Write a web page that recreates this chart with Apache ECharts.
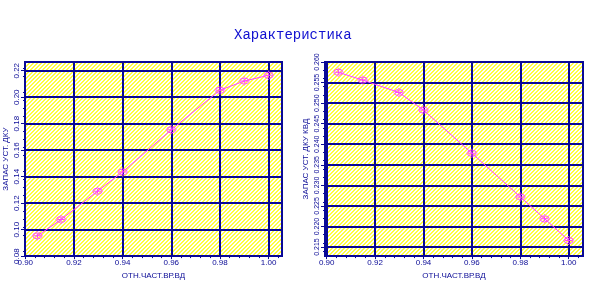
<!DOCTYPE html>
<html><head><meta charset="utf-8">
<script src="https://cdn.jsdelivr.net/npm/echarts@6/dist/echarts.min.js"></script>
<style>html,body{margin:0;padding:0;background:#fff}#c{width:597px;height:285px}</style>
</head><body><div id="c"></div>
<script>
// ---- data ----
const xLeft = [0.905, 0.9147, 0.9297, 0.94, 0.96, 0.98, 0.99, 1.00];
const yLeft = [0.0953, 0.1076, 0.1290, 0.1436, 0.1754, 0.2053, 0.2122, 0.2166];
const xRight = [0.9048, 0.9149, 0.9298, 0.94, 0.96, 0.98, 0.99, 1.00];
const yRight = [0.2575, 0.2556, 0.2526, 0.2483, 0.2378, 0.2272, 0.2219, 0.2166];
const xTicks = [0.90, 0.92, 0.94, 0.96, 0.98, 1.00];
const yTicksLeft = [0.08, 0.10, 0.12, 0.14, 0.16, 0.18, 0.20, 0.22];
const yTicksRight = [0.215, 0.220, 0.225, 0.230, 0.235, 0.240, 0.245, 0.250, 0.255, 0.260];
const titleText = 'Характеристика';
const xName = 'ОТН.ЧАСТ.ВР.ВД';
const yNameLeft = 'ЗАПАС УСТ. ДКУ';
const yNameRight = 'ЗАПАС УСТ. ДКУ КВД';

// ---- style ----
const navy = '#0a0a96';
const mag = '#ff44ff';
const fontF = '"Liberation Sans Narrow","Liberation Sans",sans-serif';

const pc = document.createElement('canvas'); pc.width = 4; pc.height = 4;
const g = pc.getContext('2d');
g.fillStyle = '#ffffff'; g.fillRect(0, 0, 4, 4);
g.fillStyle = '#ffff40';
for (let i = 0; i < 4; i++) { g.fillRect(i, 3 - i, 1, 1); g.fillRect((i + 1) % 4, 3 - i, 1, 1); }
const hatch = { image: pc, repeat: 'repeat' };

const marker = 'path://M1,10 A9,7 0 1,0 19,10 A9,7 0 1,0 1,10 Z M3,10 A7,5 0 1,1 17,10 A7,5 0 1,1 3,10 Z M9,1 h2 v18 h-2 Z M0,9 h20 v2 h-20 Z';

function xAxisCfg(gi, min, max) {
  return {
    type: 'value', gridIndex: gi, min: min, max: max,
    name: xName, nameLocation: 'middle', nameGap: 12,
    nameTextStyle: { color: navy, fontSize: 8, fontFamily: fontF },
    axisLine: { show: true, onZero: false, lineStyle: { color: navy, width: 2 } },
    axisTick: { show: true, customValues: xTicks, length: 3, lineStyle: { color: navy } },
    minorTick: { show: true, splitNumber: 5, length: 2, lineStyle: { color: navy } },
    axisLabel: { customValues: xTicks, formatter: v => v.toFixed(2), margin: 3, color: navy, fontSize: 8, fontFamily: fontF },
    splitLine: { show: true, lineStyle: { color: navy, width: 2 } }
  };
}
function yAxisCfg(gi, min, max, ticks, name, dec, fs) {
  return {
    type: 'value', gridIndex: gi, min: min, max: max,
    name: name, nameLocation: 'middle', nameGap: 15, nameRotate: 90,
    nameTextStyle: { color: navy, fontSize: 8, fontFamily: fontF },
    axisLine: { show: true, onZero: false, lineStyle: { color: navy, width: 2 } },
    axisTick: { show: true, customValues: ticks, length: 4, lineStyle: { color: navy } },
    minorTick: { show: true, splitNumber: 5, length: 2, lineStyle: { color: navy } },
    axisLabel: { customValues: ticks, rotate: 90, formatter: v => v.toFixed(dec), margin: 4, color: navy, fontSize: fs, fontFamily: fontF },
    splitLine: { show: true, lineStyle: { color: navy, width: 2 } }
  };
}
function seriesCfg(gi, xs, ys) {
  return {
    type: 'line', xAxisIndex: gi, yAxisIndex: gi,
    data: xs.map((x, i) => [x, ys[i]]),
    symbol: marker, symbolSize: [11, 9],
    lineStyle: { color: mag, width: 1 },
    itemStyle: { color: mag },
    animation: false
  };
}

const chart = echarts.init(document.getElementById('c'), null, { renderer: 'canvas' });
chart.setOption({
  animation: false,
  backgroundColor: '#ffffff',
  title: { text: titleText, left: 229, top: 23,
    textStyle: { color: '#1010d0', fontSize: 14, fontWeight: 'normal', fontFamily: '"Liberation Mono",monospace' } },
  grid: [
    { left: 25, top: 62, width: 257, height: 208, show: true, backgroundColor: hatch, borderColor: navy, borderWidth: 2 },
    { left: 325, top: 62, width: 258, height: 208, show: true, backgroundColor: hatch, borderColor: navy, borderWidth: 2 }
  ],
  xAxis: [ xAxisCfg(0, 0.8999, 1.0055), xAxisCfg(1, 0.8993, 1.0059) ],
  yAxis: [
    yAxisCfg(0, 0.08, 0.2266, yTicksLeft, yNameLeft, 2, 8),
    yAxisCfg(1, 0.2128, 0.260, yTicksRight, yNameRight, 3, 7)
  ],
  series: [ seriesCfg(0, xLeft, yLeft), seriesCfg(1, xRight, yRight) ]
});
</script></body></html>
